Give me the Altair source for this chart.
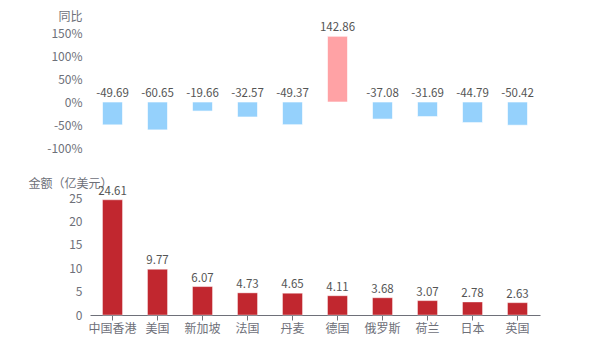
import altair as alt
import pandas as pd

countries = ["中国香港", "美国", "新加坡", "法国", "丹麦", "德国", "俄罗斯", "荷兰", "日本", "英国"]
yoy = [-49.69, -60.65, -19.66, -32.57, -49.37, 142.86, -37.08, -31.69, -44.79, -50.42]
amount = [24.61, 9.77, 6.07, 4.73, 4.65, 4.11, 3.68, 3.07, 2.78, 2.63]
yoy_ticks = [-100, -50, 0, 50, 100, 150]
amount_ticks = [0, 5, 10, 15, 20, 25]

df = pd.DataFrame({"country": countries, "yoy": yoy, "amount": amount})

FONT = "Noto Sans CJK SC"
AXIS_COLOR = "#6E7079"
LABEL_COLOR = "#555555"

xscale = alt.Scale(domain=countries, paddingInner=0.55, paddingOuter=0.275)

yoy_axis = alt.Axis(
    values=yoy_ticks,
    labelExpr="datum.value + '%'",
    labelOverlap=False,
    domain=False,
    ticks=False,
    grid=False,
    labelPadding=8,
    labelColor=AXIS_COLOR,
    labelFontSize=12,
    labelFont=FONT,
    title="同比",
    titleAngle=0,
    titleAlign="right",
    titleBaseline="middle",
    titleX=-8,
    titleY=-17,
    titleFont=FONT,
    titleFontSize=12,
    titleFontWeight="normal",
    titleColor=AXIS_COLOR,
)

amt_axis = alt.Axis(
    values=amount_ticks,
    labelOverlap=False,
    domain=False,
    ticks=False,
    grid=False,
    labelPadding=8,
    labelColor=AXIS_COLOR,
    labelFontSize=12,
    labelFont=FONT,
    title="金额（亿美元）",
    titleAngle=0,
    titleAlign="left",
    titleBaseline="middle",
    titleX=-62,
    titleY=-15,
    titleFont=FONT,
    titleFontSize=12,
    titleFontWeight="normal",
    titleColor=AXIS_COLOR,
)

x_axis = alt.Axis(
    title=None,
    labelAngle=0,
    labelOverlap=False,
    domainColor=AXIS_COLOR,
    tickColor=AXIS_COLOR,
    tickSize=5,
    labelPadding=3,
    labelColor=AXIS_COLOR,
    labelFontSize=12,
    labelFont=FONT,
)

yoy_scale = alt.Scale(domain=[-100, 150], nice=False, zero=True)
amt_scale = alt.Scale(domain=[0, 25], nice=False)

base_top = alt.Chart(df).transform_calculate(
    lab_y="max(datum.yoy, 0)",
    lab_txt="replace(format(datum.yoy, '.2f'), '\u2212', '-')",
)

top_bars = base_top.mark_bar(size=20, stroke="white", strokeWidth=1, strokeOpacity=0.6).encode(
    x=alt.X("country:N", sort=countries, scale=xscale, axis=None),
    y=alt.Y("yoy:Q", scale=yoy_scale, axis=yoy_axis),
    color=alt.condition(alt.datum.yoy > 0, alt.value("#FFA2A5"), alt.value("#95D1FC")),
)

top_text = base_top.mark_text(
    dy=-3, baseline="bottom", fontSize=11.5, font=FONT, color=LABEL_COLOR
).encode(
    x=alt.X("country:N", sort=countries, scale=xscale, axis=None),
    y=alt.Y("lab_y:Q", scale=yoy_scale, axis=yoy_axis),
    text=alt.Text("lab_txt:N"),
)

top = alt.layer(top_bars, top_text).properties(width=450, height=115)

base_bot = alt.Chart(df)

bot_bars = base_bot.mark_bar(size=20, stroke="white", strokeWidth=1, strokeOpacity=0.4).encode(
    x=alt.X("country:N", sort=countries, scale=xscale, axis=x_axis),
    y=alt.Y("amount:Q", scale=amt_scale, axis=amt_axis),
    color=alt.value("#C1272F"),
)

bot_text = base_bot.mark_text(
    dy=-3, baseline="bottom", fontSize=11.5, font=FONT, color=LABEL_COLOR
).encode(
    x=alt.X("country:N", sort=countries, scale=xscale, axis=x_axis),
    y=alt.Y("amount:Q", scale=amt_scale, axis=amt_axis),
    text=alt.Text("amount:Q", format=".2f"),
)

bottom = alt.layer(bot_bars, bot_text).properties(width=450, height=117)

chart = (
    alt.vconcat(top, bottom, spacing=23)
    .properties(
        padding={"left": 28, "top": 10, "right": 60, "bottom": 13},
        background="white",
    )
    .configure_view(stroke=None)
    .configure_concat(spacing=23)
)

chart.save("out.html", embed_options={"renderer": "svg", "actions": False})
